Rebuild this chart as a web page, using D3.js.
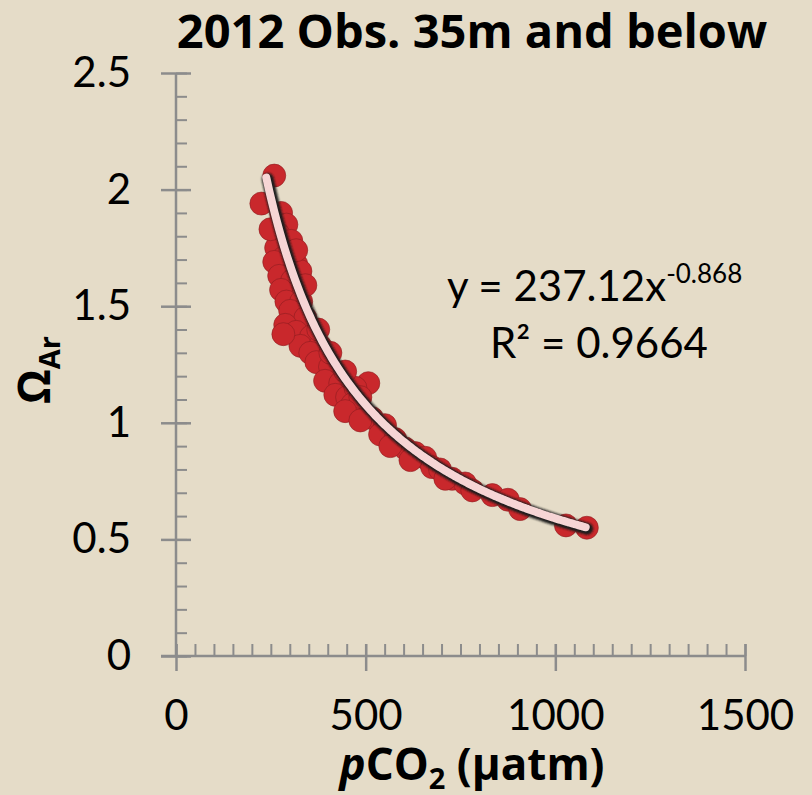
<!DOCTYPE html>
<html>
<head>
<meta charset="utf-8">
<script src="https://cdn.jsdelivr.net/npm/d3@7"></script>
<style>
  html, body { margin: 0; padding: 0; background: #e5dcc8; }
  svg { display: block; }
</style>
</head>
<body>
<svg id="chart" width="812" height="795"></svg>
<script>
// Observed carbonate data below 35 m: pCO2 (µatm) and aragonite saturation
const pco2 = [259, 225, 277, 291, 270, 304, 264, 285, 317, 259, 272, 306, 328, 320, 277,
  291, 330, 301, 341, 288, 317, 356, 328, 380, 354, 370, 406, 393, 433, 420, 451, 507,
  473, 465, 491, 517, 551, 538, 578, 604, 631, 657, 675, 696, 728, 762, 781, 834, 875,
  907, 1028, 1083, 249, 317, 341, 283, 375, 407, 446, 486, 446, 486, 565, 618, 710];
const omegaAr = [2.06, 1.94, 1.90, 1.85, 1.81, 1.78, 1.75, 1.71, 1.68, 1.69, 1.63, 1.61,
  1.65, 1.56, 1.57, 1.52, 1.52, 1.48, 1.45, 1.42, 1.39, 1.37, 1.33, 1.33, 1.30, 1.26,
  1.24, 1.18, 1.17, 1.12, 1.11, 1.17, 1.15, 1.08, 1.05, 1.02, 0.99, 0.95, 0.93, 0.89,
  0.87, 0.85, 0.81, 0.80, 0.76, 0.74, 0.71, 0.69, 0.67, 0.63, 0.56, 0.55, 1.83, 1.74,
  1.59, 1.38, 1.40, 1.30, 1.22, 1.11, 1.05, 1.01, 0.90, 0.84, 0.76];

// Power-law fit y = a * x^b
const fitA = 237.12;
const fitB = -0.868;
const fitR2 = "0.9664";
const fitRange = [238, 1080];

const xTicks = [0, 500, 1000, 1500];
const yTicks = [0, 0.5, 1, 1.5, 2, 2.5];
const xMinor = d3.range(0, 1501, 50);
const yMinor = d3.range(0, 2.51, 0.1);

const svg = d3.select("#chart");
const x = d3.scaleLinear().domain([0, 1500]).range([176, 745]);
const y = d3.scaleLinear().domain([0, 2.5]).range([656, 73]);
const axisColor = "#8c8c8c";
const bodyFont = "Lato, sans-serif";
const boldFont = "'Open Sans', sans-serif";

// Minor ticks on the x axis (pointing up)
const xAxisMinor = d3.axisBottom(x).tickValues(xMinor).tickSize(-12).tickFormat("");
svg.append("g").attr("transform", "translate(0,656)").call(xAxisMinor)
  .call(g => g.select(".domain").remove())
  .call(g => g.selectAll("line").attr("stroke", axisColor).attr("stroke-width", 2));

// Major ticks on the x axis cross the axis line
const xAxisMajor = d3.axisBottom(x).tickValues(xTicks).tickSize(15).tickPadding(29)
  .tickSizeOuter(0).tickFormat(d3.format("d"));
svg.append("g").attr("transform", "translate(0,656)").call(xAxisMajor)
  .call(g => g.select(".domain").attr("stroke", axisColor).attr("stroke-width", 2.5)
    .attr("d", "M161,0H745"))
  .call(g => g.selectAll(".tick line").attr("stroke", axisColor).attr("stroke-width", 2.5)
    .attr("y1", -12))
  .call(g => g.selectAll("text").attr("fill", "#000").attr("dy", "0.71em")
    .style("font-family", bodyFont).style("font-size", "42px"));

// Minor ticks on the y axis (pointing right)
const yAxisMinor = d3.axisLeft(y).tickValues(yMinor).tickSize(-11).tickFormat("");
svg.append("g").attr("transform", "translate(176,0)").call(yAxisMinor)
  .call(g => g.select(".domain").remove())
  .call(g => g.selectAll("line").attr("stroke", axisColor).attr("stroke-width", 2));

// Major ticks on the y axis cross the axis line
const yAxisMajor = d3.axisLeft(y).tickValues(yTicks).tickSize(15).tickPadding(30)
  .tickSizeOuter(0).tickFormat(d => d === 0 ? "0" : d3.format("")(d));
svg.append("g").attr("transform", "translate(176,0)").call(yAxisMajor)
  .call(g => g.select(".domain").attr("stroke", axisColor).attr("stroke-width", 2.5)
    .attr("d", "M0,73V656"))
  .call(g => g.selectAll(".tick line").attr("stroke", axisColor).attr("stroke-width", 2.5)
    .attr("x2", 15).attr("x1", -15))
  .call(g => g.selectAll("text").attr("fill", "#000")
    .style("font-family", bodyFont).style("font-size", "42px"));

// Data points
const pts = pco2.map((v, i) => ({ x: v, y: omegaAr[i] }));
svg.append("g").selectAll("circle").data(pts).join("circle")
  .attr("cx", d => x(d.x)).attr("cy", d => y(d.y)).attr("r", 11.5)
  .attr("fill", "#c9282c").attr("stroke", "#8e1d1f").attr("stroke-opacity", 0.6)
  .attr("stroke-width", 1);

// Trend line: dark shadow under a pale pink stroke
const defs = svg.append("defs");
defs.append("filter").attr("id", "soft").attr("x", "-10%").attr("y", "-10%")
  .attr("width", "120%").attr("height", "120%")
  .append("feGaussianBlur").attr("stdDeviation", 1.2);

const fitXs = d3.range(fitRange[0], fitRange[1] + 1, 4);
if (fitXs[fitXs.length - 1] !== fitRange[1]) fitXs.push(fitRange[1]);
const fitLine = d3.line().x(d => x(d)).y(d => y(fitA * Math.pow(d, fitB))).curve(d3.curveBasis);
svg.append("path").datum(fitXs).attr("d", fitLine)
  .attr("fill", "none").attr("stroke", "#1a1a1a").attr("stroke-width", 12)
  .attr("stroke-linecap", "round").attr("transform", "translate(1.5,1.5)")
  .attr("filter", "url(#soft)");
svg.append("path").datum(fitXs).attr("d", fitLine)
  .attr("fill", "none").attr("stroke", "#f6d5d5").attr("stroke-width", 8)
  .attr("stroke-linecap", "round");

// Equation and R²
const eq = svg.append("text").attr("x", 447).attr("y", 301).attr("fill", "#000")
  .style("font-family", bodyFont).style("font-size", "42px");
eq.append("tspan").text("y = 237.12x");
eq.append("tspan").attr("dy", -18).style("font-size", "26px").text("-0.868");
svg.append("text").attr("x", 599).attr("y", 358).attr("text-anchor", "middle")
  .attr("fill", "#000").style("font-family", bodyFont).style("font-size", "42px")
  .text("R² = " + fitR2);

// Title
svg.append("text").attr("x", 472).attr("y", 48).attr("text-anchor", "middle")
  .attr("fill", "#000").style("font-family", boldFont).style("font-size", "47px")
  .style("font-weight", "bold").text("2012 Obs. 35m and below");

// Axis titles
const xl = svg.append("text").attr("x", 472).attr("y", 780).attr("text-anchor", "middle")
  .attr("fill", "#000").style("font-family", boldFont).style("font-size", "44px")
  .style("font-weight", "bold");
xl.append("tspan").style("font-style", "italic").text("p");
xl.append("tspan").text("CO");
xl.append("tspan").style("font-size", "29px").attr("dy", 9).text("2");
xl.append("tspan").attr("dy", -9).text(" (µatm)");

const yl = svg.append("text").attr("transform", "translate(50,370) rotate(-90)")
  .attr("text-anchor", "middle").attr("fill", "#000").style("font-family", boldFont)
  .style("font-size", "44px").style("font-weight", "bold");
yl.append("tspan").text("Ω");
yl.append("tspan").style("font-size", "29px").attr("dy", 10).text("Ar");
</script>
</body>
</html>
